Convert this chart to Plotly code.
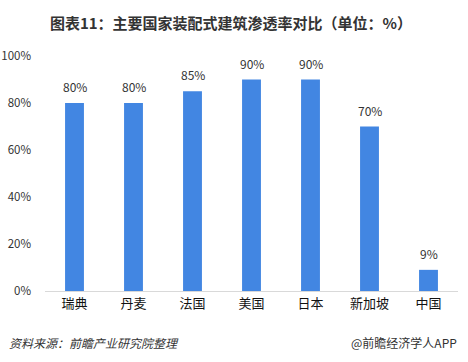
import plotly.graph_objects as go

categories = ["瑞典", "丹麦", "法国", "美国", "日本", "新加坡", "中国"]
values = [80, 80, 85, 90, 90, 70, 9]
tick_vals = [0, 20, 40, 60, 80, 100]
tick_text = ["0%", "20%", "40%", "60%", "80%", "100%"]
labels = [f"{v}%" for v in values]

font_family = "Noto Sans CJK SC, Microsoft YaHei, sans-serif"

W, H = 468, 362

fig = go.Figure()
fig.add_trace(go.Bar(
    x=categories, y=values,
    marker=dict(color="#4286E2", line=dict(width=0)),
    hoverinfo="skip",
))

for c, v, t in zip(categories, values, labels):
    fig.add_annotation(x=c, y=v, text=t, showarrow=False, xanchor="center",
                       yanchor="bottom", yshift=6,
                       font=dict(size=12, color="#333333"))

plot_left, plot_right = 45, 458
plot_top, plot_bottom = 56, 291

fig.update_layout(
    width=W, height=H,
    margin=dict(l=plot_left, r=W - plot_right, t=plot_top, b=H - plot_bottom, autoexpand=False),
    paper_bgcolor="white", plot_bgcolor="white",
    font=dict(family=font_family, size=12, color="#333333"),
    bargap=0.68,
    showlegend=False,
    title=dict(text="<b>图表11：主要国家装配式建筑渗透率对比（单位：%）</b>",
               x=231 / W, xanchor="center",
               y=1 - 24 / H, yanchor="middle",
               font=dict(size=15, color="#333333")),
    xaxis=dict(showline=True, linecolor="#d9d9d9", linewidth=1, ticks="",
               tickfont=dict(size=13, color="#111111"), showgrid=False,
               fixedrange=True),
    yaxis=dict(range=[0, 100], tickvals=tick_vals, ticktext=tick_text,
               showgrid=False, zeroline=False, showline=False, ticks="",
               tickfont=dict(size=11.5, color="#333333"), ticklabelstandoff=13,
               fixedrange=True),
)

src_y = (plot_bottom - 343) / (plot_bottom - plot_top)
fig.add_annotation(text="<i>资料来源：前瞻产业研究院整理</i>", xref="paper", yref="paper",
                   x=(7 - plot_left) / (plot_right - plot_left), y=src_y,
                   xanchor="left", yanchor="middle", showarrow=False,
                   font=dict(size=12, color="#333333"))
fig.add_annotation(text="@前瞻经济学人APP", xref="paper", yref="paper",
                   x=(459 - plot_left) / (plot_right - plot_left), y=src_y,
                   xanchor="right", yanchor="middle", showarrow=False,
                   font=dict(size=12, color="#333333"))

fig.write_html("out.html",
               config={"displayModeBar": False},
               post_script="document.body.style.margin='0';document.body.style.overflow='hidden';")
